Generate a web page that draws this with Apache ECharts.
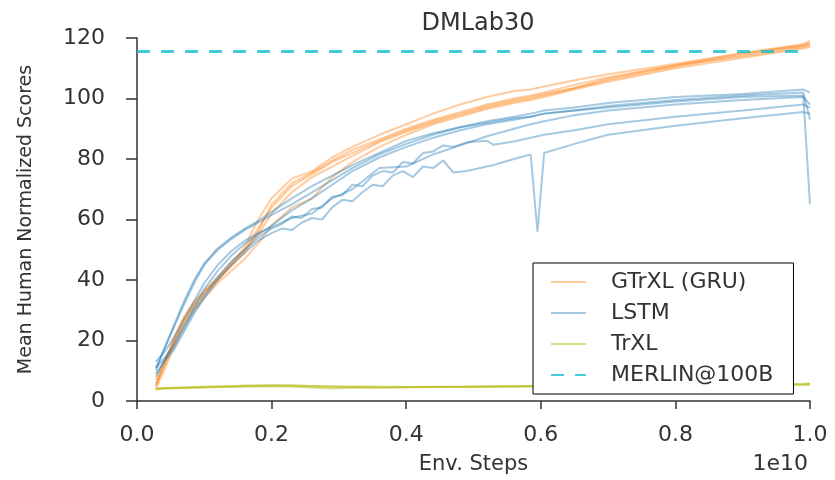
<!DOCTYPE html>
<html lang="en">
<head>
    <meta charset="UTF-8">
    <title>DMLab30</title>
    <style>
        body { margin: 0; background: #fff; }
        #container { width: 835px; height: 480px; }
    </style>
</head>
<body>
<div id="container"></div>
<script type="text/javascript" src="https://cdn.jsdelivr.net/npm/echarts@6/dist/echarts.min.js"></script>
<script type="text/javascript">
    // env steps, in units of 1e10
    var steps = [0.028, 0.04, 0.055, 0.07, 0.085, 0.1, 0.12, 0.14, 0.16, 0.18, 0.2, 0.23, 0.26, 0.29, 0.32,
        0.36, 0.4, 0.44, 0.48, 0.52, 0.56, 0.585, 0.595, 0.605, 0.65, 0.7, 0.8, 0.9, 0.99, 1.0];
    // finer steps for the noisy LSTM runs
    var jagSteps = [0.028, 0.04, 0.055, 0.07, 0.085, 0.1, 0.12, 0.14, 0.16, 0.18, 0.2, 0.215, 0.23, 0.245,
        0.26, 0.275, 0.29, 0.305, 0.32, 0.335, 0.35, 0.365, 0.38, 0.395, 0.41, 0.425, 0.44, 0.455, 0.47,
        0.49, 0.52, 0.53, 0.56, 0.585, 0.595, 0.605, 0.65, 0.7, 0.8, 0.9, 0.99, 1.0];

    // GTrXL (GRU) runs
    var gtrxl1 = [5, 12, 21, 28, 33, 36.5, 40.5, 45, 50, 57, 64, 71, 75, 79, 82, 86, 89.5, 92.5, 95, 97.5, 99.5, 100.5, 101, 101.5, 103.5, 106, 110.5, 114.5, 117.5, 118];
    var gtrxl2 = [6, 11, 19, 26, 31, 35, 40, 45, 51, 60, 67, 73.5, 76, 80.5, 84, 88, 91.5, 95, 98, 100.5, 102.5, 103, 103.5, 104, 106, 108, 111.5, 115, 117.5, 118.5];
    var gtrxl3 = [4, 10, 18, 25, 30, 34, 39, 43, 47, 52, 58, 64, 67, 74, 79, 84, 88, 91.5, 94, 96.5, 98.5, 99.5, 100, 100.5, 103, 105.5, 110, 113.5, 116.5, 117];
    var gtrxl4 = [7, 13, 20, 27, 32, 36, 41, 46, 50, 55, 62, 69, 74, 77.5, 81, 85.5, 89, 92, 94.5, 97, 99, 100, 100.5, 101, 103.5, 106.5, 111, 115, 118, 119];
    var gtrxl5 = [5, 12, 20, 27, 32, 36, 40, 44.5, 49, 56, 65, 72, 75.5, 79.5, 83, 86.5, 90, 93, 95.5, 98, 100, 101, 101.5, 102, 104.5, 107, 111, 114, 117, 117.5];

    // LSTM runs (on steps)
    var lstm1 = [10, 17, 25, 33, 40, 45.5, 50.5, 54, 57, 59.5, 62.5, 67, 71, 74.5, 78, 82, 86, 88.5, 90.5, 92, 93.5, 94, 94.5, 95, 96, 97, 99, 100.5, 101, 65];
    var lstm2 = [11, 17, 24.5, 32, 39, 45, 50, 53.5, 56.5, 59, 61.5, 65, 69, 73, 77, 81.5, 85, 88, 90.5, 92.5, 94, 95, 95.5, 96, 97, 98.5, 100.5, 101.5, 103, 102];
    var lstm3 = [8, 13, 19, 25, 31, 37, 43, 48, 52, 55, 58, 63, 67, 71.5, 76, 80.5, 84, 87, 89.5, 91.5, 93, 94, 94.5, 95, 96, 97.5, 99.5, 101, 102, 93];
    var lstm6 = [13, 16, 21, 27, 33, 39, 45, 49.5, 53, 55.5, 57.5, 60.5, 62, 67, 70, 77, 77.5, 81.5, 84.5, 87.5, 90, 91.5, 92, 92.5, 94.5, 96, 98, 99.5, 100.5, 98];
    // LSTM runs (on jagSteps)
    var lstm4 = [11, 14, 18, 24, 30, 35, 41, 46, 50, 54, 57, 58.5, 61, 60.5, 63.5, 64, 67.5, 68, 71.5, 71, 74.5, 76, 75.5, 79, 78.5, 82, 82.5, 84.5, 84, 85.5, 86, 84.7, 85.8, 87, 87.5, 88, 89.5, 91.5, 94, 96, 98, 97];
    var lstm5 = [9, 13, 17, 23, 29, 34, 40, 45, 49, 53, 55.5, 57, 56.5, 59, 60.5, 60, 64, 66.5, 66, 69, 71.5, 71, 74.5, 76, 74, 77.5, 77, 79.5, 75.5, 76, 77.5, 78, 80, 81.5, 56, 82, 85, 88, 91, 93.5, 95.5, 95];

    // TrXL runs
    var trxl1 = [4, 4.2, 4.3, 4.4, 4.5, 4.6, 4.7, 4.8, 4.9, 5, 5, 5.1, 5, 4.9, 4.8, 4.7, 4.6, 4.6, 4.7, 4.8, 4.8, 4.9, 4.9, 4.9, 5, 5.1, 5.2, 5.3, 5.5, 5.6];
    var trxl2 = [3.8, 4.1, 4.2, 4.3, 4.4, 4.5, 4.6, 4.7, 4.8, 4.8, 4.9, 4.8, 4.5, 4.1, 4.4, 4.5, 4.6, 4.7, 4.6, 4.7, 4.9, 4.8, 4.8, 4.9, 4.9, 5, 5.1, 5.2, 5.3, 5.4];
    var trxl3 = [4.1, 4.3, 4.4, 4.5, 4.6, 4.7, 4.8, 4.9, 5.1, 5.2, 5.3, 5.1, 4.9, 4.7, 4.6, 4.5, 4.5, 4.6, 4.7, 4.8, 4.9, 5, 5, 5, 5.1, 5.2, 5.3, 5.5, 5.7, 5.8];

    // MERLIN@100B reference level
    var merlinSteps = [0, 0.99];
    var merlinScore = 115.5;

    var font = 'DejaVu Sans';
    var textColor = '#333';

    var dom = document.getElementById("container");
    var myChart = echarts.init(dom, null, {renderer: 'canvas'});

    var runSeries = function (name, xs, values, color, opacity) {
        return {
            name: name,
            type: 'line',
            symbol: 'none',
            showSymbol: false,
            silent: true,
            data: xs.map(function (x, i) { return [x, values[i]]; }),
            lineStyle: {color: color, width: 2, opacity: opacity},
            itemStyle: {color: color},
            emphasis: {disabled: true}
        };
    };

    var series = [];
    [gtrxl1, gtrxl2, gtrxl3, gtrxl4, gtrxl5].forEach(function (run) {
        series.push(runSeries('GTrXL (GRU)', steps, run, '#ff7f0e', 0.4));
    });
    [lstm1, lstm2, lstm3, lstm6].forEach(function (run) {
        series.push(runSeries('LSTM', steps, run, '#1f77b4', 0.4));
    });
    [lstm4, lstm5].forEach(function (run) {
        series.push(runSeries('LSTM', jagSteps, run, '#1f77b4', 0.4));
    });
    [trxl1, trxl2, trxl3].forEach(function (run) {
        series.push(runSeries('TrXL', steps, run, '#bcbd22', 0.55));
    });
    series.push({
        name: 'MERLIN@100B',
        type: 'line',
        symbol: 'none',
        silent: true,
        data: merlinSteps.map(function (x) { return [x, merlinScore]; }),
        lineStyle: {color: '#17becf', width: 3, type: [13, 11], opacity: 0.8},
        itemStyle: {color: '#17becf'},
        emphasis: {disabled: true}
    });

    var option = {
        animation: false,
        backgroundColor: '#fff',
        title: {
            text: 'DMLab30',
            left: 473,
            textAlign: 'center',
            top: 7,
            textStyle: {fontFamily: font, fontSize: 24, fontWeight: 'normal', color: textColor}
        },
        legend: {
            data: ['GTrXL (GRU)', 'LSTM', 'TrXL', 'MERLIN@100B'],
            orient: 'vertical',
            left: 533,
            top: 263,
            padding: [8, 20, 8, 17],
            itemWidth: 35,
            itemHeight: 14,
            itemGap: 9,
            itemStyle: {opacity: 0},
            backgroundColor: '#fff',
            borderColor: '#000',
            borderWidth: 1,
            borderRadius: 0,
            selectedMode: false,
            textStyle: {fontFamily: font, fontSize: 22, lineHeight: 22, color: textColor, padding: [0, 0, 0, 20]}
        },
        grid: {left: 137, right: 25, top: 38, bottom: 77},
        xAxis: {
            type: 'value',
            min: 0,
            max: 1,
            interval: 0.2,
            offset: 9,
            name: 'Env. Steps',
            nameLocation: 'middle',
            nameGap: 44,
            nameTextStyle: {fontFamily: font, fontSize: 21, color: textColor},
            splitLine: {show: false},
            axisLine: {lineStyle: {color: textColor, width: 1.5}},
            axisTick: {length: 8, lineStyle: {color: textColor, width: 1.5}},
            axisLabel: {
                fontFamily: font, fontSize: 22, color: textColor, margin: 14,
                formatter: function (v) { return v.toFixed(1); }
            }
        },
        yAxis: {
            type: 'value',
            min: 0,
            max: 120,
            interval: 20,
            offset: 10,
            name: 'Mean Human Normalized Scores',
            nameLocation: 'middle',
            nameGap: 91,
            nameTextStyle: {fontFamily: font, fontSize: 19, color: textColor},
            splitLine: {show: false},
            axisLine: {show: true, lineStyle: {color: textColor, width: 1.5}},
            axisTick: {show: true, length: 11, lineStyle: {color: textColor, width: 1.5}},
            axisLabel: {fontFamily: font, fontSize: 22, color: textColor, margin: 22}
        },
        graphic: [{
            type: 'text',
            right: 27,
            top: 453,
            style: {text: '1e10', fontFamily: font, fontSize: 22, fill: textColor}
        }],
        series: series
    };

    myChart.setOption(option, true);
</script>
</body>
</html>
